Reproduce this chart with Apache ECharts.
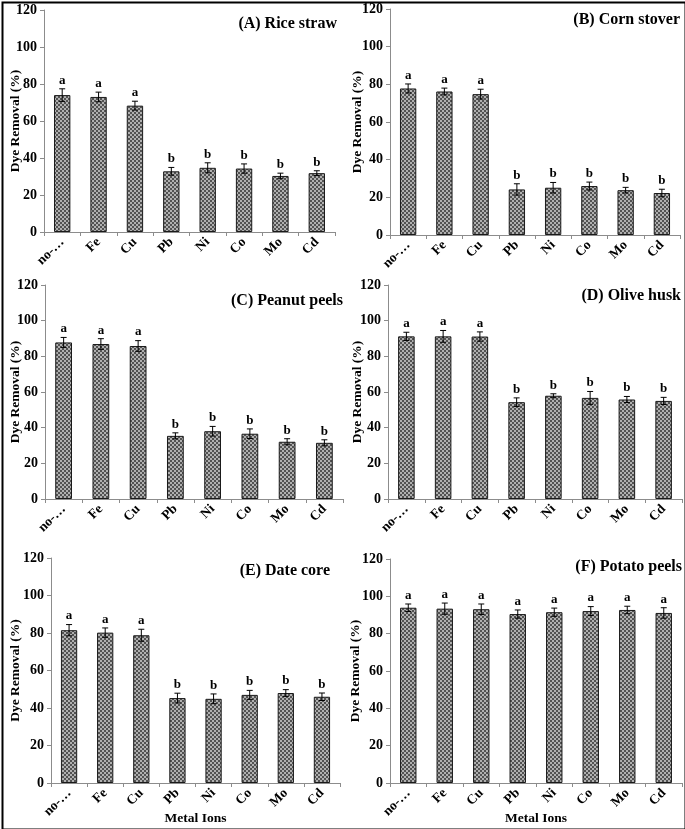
<!DOCTYPE html>
<html><head><meta charset="utf-8">
<script src="https://cdn.jsdelivr.net/npm/echarts@6/dist/echarts.min.js"></script>
<style>html,body{margin:0;padding:0;background:#fff}#c{width:685px;height:829px}</style>
</head><body><div id="c"></div>
<script>
const categories = ['no-…','Fe','Cu','Pb','Ni','Co','Mo','Cd'];
const yTicks = [0,20,40,60,80,100,120];

const titleA = '(A) Rice straw';
const valuesA = [74, 73, 68.3, 32.8, 34.7, 34.3, 30.3, 31.8];
const errorsA = [3.4, 2.6, 2.4, 2.1, 2.7, 2.5, 1.5, 1.3];
const lettersA = ['a','a','a','b','b','b','b','b'];

const titleB = '(B) Corn stover';
const valuesB = [77.8, 76.2, 74.8, 24.2, 25.1, 26, 23.8, 22.3];
const errorsB = [2.4, 1.8, 2.6, 3, 2.8, 2.1, 1.5, 2];
const lettersB = ['a','a','a','b','b','b','b','b'];

const titleC = '(C) Peanut peels';
const valuesC = [87.8, 86.9, 85.8, 35.4, 38, 36.6, 32.1, 31.5];
const errorsC = [2.8, 3, 3, 1.7, 2.7, 2.7, 1.7, 1.7];
const lettersC = ['a','a','a','b','b','b','b','b'];

const titleD = '(D) Olive husk';
const valuesD = [91.2, 91.2, 91.1, 54.3, 57.9, 56.7, 55.8, 55];
const errorsD = [2.3, 3.3, 2.6, 2.4, 1.1, 3.6, 1.7, 2];
const lettersD = ['a','a','a','b','b','b','b','b'];

const titleE = '(E) Date core';
const valuesE = [81.5, 80.2, 78.8, 45.3, 44.9, 47, 48, 46];
const errorsE = [3, 2.5, 3.2, 2.6, 2.6, 2.4, 1.8, 2];
const lettersE = ['a','a','a','b','b','b','b','b'];

const titleF = '(F) Potato peels';
const valuesF = [93.9, 93.4, 93.1, 90.5, 91.5, 92.1, 92.7, 91.1];
const errorsF = [2, 3, 2.8, 2.2, 2.2, 2.4, 2, 2.8];
const lettersF = ['a','a','a','a','a','a','a','a'];

const panels = [
  {title: titleA, values: valuesA, errors: errorsA, letters: lettersA, grid:{left:44, top:10, right:350, bottom:597}, tx:337, ty:25, gap:21, xName:false},
  {title: titleB, values: valuesB, errors: errorsB, letters: lettersB, grid:{left:390, top:9, right:5, bottom:594}, tx:680, ty:21, gap:25, xName:false},
  {title: titleC, values: valuesC, errors: errorsC, letters: lettersC, grid:{left:45, top:285, right:342, bottom:330}, tx:343, ty:302, gap:22, xName:false},
  {title: titleD, values: valuesD, errors: errorsD, letters: lettersD, grid:{left:388, top:285, right:3, bottom:330}, tx:681, ty:297, gap:23, xName:false},
  {title: titleE, values: valuesE, errors: errorsE, letters: lettersE, grid:{left:51, top:558, right:345, bottom:46}, tx:330, ty:572, gap:28, xName:true},
  {title: titleF, values: valuesF, errors: errorsF, letters: lettersF, grid:{left:390, top:559, right:3, bottom:46}, tx:682, ty:568, gap:27, xName:true}
];

// checker pattern
const pc = document.createElement('canvas');
pc.width = 4; pc.height = 4;
const pctx = pc.getContext('2d');
pctx.fillStyle = '#525252'; pctx.fillRect(0,0,4,4);
pctx.fillStyle = '#b0b0b0'; pctx.fillRect(0,0,2,2); pctx.fillRect(2,2,2,2);

const font = '"Liberation Serif","Times New Roman",serif';
const chart = echarts.init(document.getElementById('c'), null, {renderer:'canvas'});

const grids = [], xAxes = [], yAxes = [], series = [], graphics = [];
panels.forEach((p, i) => {
  grids.push(Object.assign({containLabel:false, outerBoundsMode:'none'}, p.grid));
  xAxes.push({
    type:'category', gridIndex:i, data:categories,
    axisLine:{lineStyle:{color:'#8c8c8c', width:1}},
    axisTick:{show:true, alignWithLabel:false, length:4, lineStyle:{color:'#8c8c8c'}},
    axisLabel:{rotate:45, color:'#000', fontFamily:font, fontWeight:'bold', fontSize:13.5, margin:8, interval:0},
    name: p.xName ? 'Metal Ions' : '', nameLocation:'middle', nameGap:29, nameMoveOverlap:false,
    nameTextStyle:{color:'#000', fontFamily:font, fontWeight:'bold', fontSize:13.5}
  });
  yAxes.push({
    type:'value', gridIndex:i, min:0, max:120, interval:20,
    axisLine:{show:true, lineStyle:{color:'#8c8c8c'}},
    axisTick:{show:true, length:4, lineStyle:{color:'#8c8c8c'}},
    splitLine:{show:false},
    axisLabel:{color:'#000', fontFamily:font, fontWeight:'bold', fontSize:14, margin:7,
      formatter: v => yTicks.includes(v) ? String(v) : ''},
    name:'Dye Removal (%)', nameLocation:'middle', nameGap:p.gap, nameRotate:90, nameMoveOverlap:false,
    nameTextStyle:{color:'#000', fontFamily:font, fontWeight:'bold', fontSize:13.5}
  });
  series.push({
    type:'bar', xAxisIndex:i, yAxisIndex:i, data:p.values, barWidth:'45%',
    itemStyle:{color:{image:pc, repeat:'repeat'}, borderColor:'#1a1a1a', borderWidth:1},
    silent:true
  });
  const errData = p.values.map((v, k) => [k, v, p.errors[k]]);
  series.push({
    type:'custom', xAxisIndex:i, yAxisIndex:i, data:errData, silent:true, z:5,
    renderItem: (params, api) => {
      const x = api.value(0), v = api.value(1), e = api.value(2);
      const lo = api.coord([x, v - e]), hi = api.coord([x, v + e]);
      const hw = 3;
      return {type:'group', children:[
        {type:'line', shape:{x1:lo[0], y1:lo[1], x2:hi[0], y2:hi[1]}, style:{stroke:'#000', lineWidth:1}},
        {type:'line', shape:{x1:lo[0]-hw, y1:lo[1], x2:lo[0]+hw, y2:lo[1]}, style:{stroke:'#000', lineWidth:1}},
        {type:'line', shape:{x1:hi[0]-hw, y1:hi[1], x2:hi[0]+hw, y2:hi[1]}, style:{stroke:'#000', lineWidth:1}},
        {type:'text', style:{text:p.letters[params.dataIndex], x:hi[0], y:hi[1]-2, align:'center', verticalAlign:'bottom',
          fill:'#000', font:'bold 13px ' + font}}
      ]};
    }
  });
  graphics.push({type:'text', right: 685 - p.tx, top: p.ty - 9, style:{text:p.title, fill:'#000', font:'bold 16px ' + font}});
});
graphics.push({type:'rect', left:0, top:0, shape:{x:1, y:1, width:683, height:827}, style:{fill:'none', stroke:'#000', lineWidth:2}});

chart.setOption({animation:false, backgroundColor:'#fff', grid:grids, xAxis:xAxes, yAxis:yAxes, series:series, graphic:graphics});
</script></body></html>
